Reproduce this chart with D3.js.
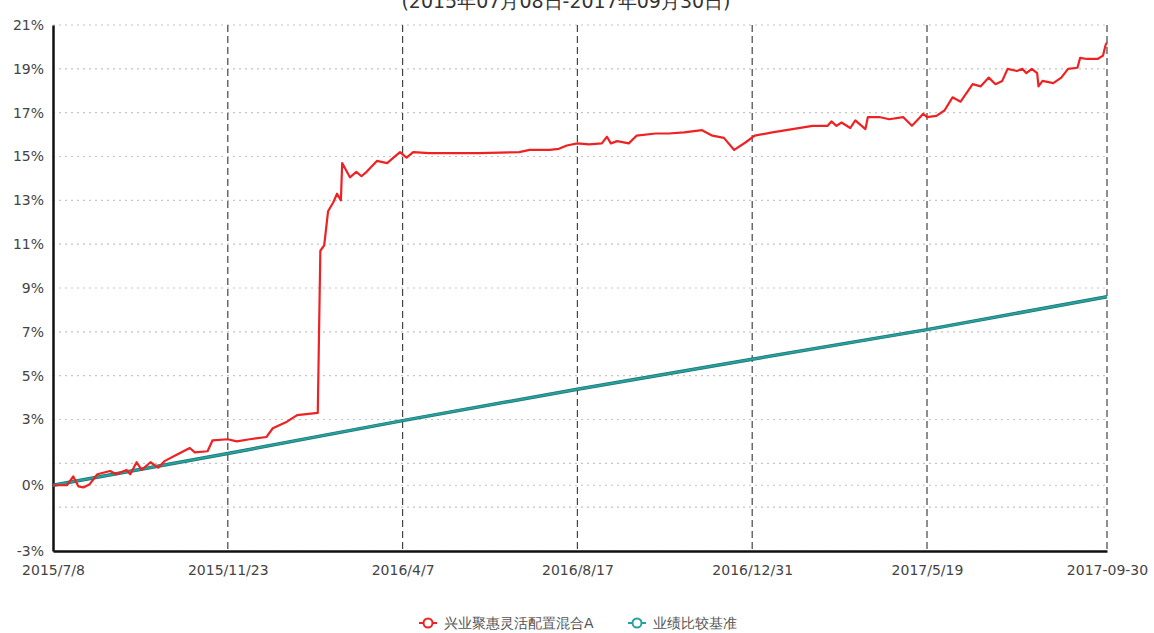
<!DOCTYPE html>
<html>
<head>
<meta charset="utf-8">
<script src="https://cdn.jsdelivr.net/npm/d3@7"></script>
<style>
  body { margin: 0; background: #fff; }
  svg { display: block; font-family: "DejaVu Sans", Verdana, sans-serif; }
</style>
</head>
<body>
<svg id="chart" width="1154" height="633"></svg>
<script>
'use strict';

var title = '(2015年07月08日-2017年09月30日)';
var seriesNames = ['兴业聚惠灵活配置混合A', '业绩比较基准'];

var tickDates = ['2015-07-08', '2015-11-23', '2016-04-07', '2016-08-17', '2016-12-31', '2017-05-19', '2017-09-30'];
var tickLabels = ['2015/7/8', '2015/11/23', '2016/4/7', '2016/8/17', '2016/12/31', '2017/5/19', '2017-09-30'];

var gridValues = [21, 19, 17, 15, 13, 11, 9, 7, 5, 3, 1, 0, -1, -3];
var labelValues = [21, 19, 17, 15, 13, 11, 9, 7, 5, 3, 0, -3];

// fund return (%)
var fundDates = [
  '2015-07-08', '2015-07-19', '2015-07-24', '2015-07-28', '2015-08-01', '2015-08-06', '2015-08-12',
  '2015-08-22', '2015-08-27', '2015-09-04', '2015-09-07', '2015-09-12', '2015-09-16', '2015-09-23',
  '2015-09-29', '2015-10-04', '2015-10-14', '2015-10-24', '2015-10-28', '2015-11-07', '2015-11-11',
  '2015-11-23', '2015-11-30', '2015-12-10', '2015-12-23', '2015-12-28', '2016-01-08', '2016-01-16',
  '2016-02-01', '2016-02-03', '2016-02-06', '2016-02-09', '2016-02-13', '2016-02-16', '2016-02-19',
  '2016-02-20', '2016-02-26', '2016-03-02', '2016-03-06', '2016-03-10', '2016-03-18', '2016-03-26',
  '2016-03-30', '2016-04-05', '2016-04-10', '2016-04-15', '2016-04-27', '2016-06-04', '2016-07-04',
  '2016-07-12', '2016-07-27', '2016-08-03', '2016-08-09', '2016-08-17', '2016-08-26', '2016-09-05',
  '2016-09-09', '2016-09-12', '2016-09-17', '2016-09-26', '2016-10-02', '2016-10-17', '2016-10-27',
  '2016-11-08', '2016-11-22', '2016-11-30', '2016-12-09', '2016-12-17', '2016-12-26', '2017-01-02',
  '2017-01-16', '2017-02-01', '2017-02-17', '2017-03-01', '2017-03-04', '2017-03-08', '2017-03-12',
  '2017-03-19', '2017-03-23', '2017-03-31', '2017-04-02', '2017-04-11', '2017-04-19', '2017-04-30',
  '2017-05-07', '2017-05-12', '2017-05-16', '2017-05-19', '2017-05-26', '2017-06-01', '2017-06-07',
  '2017-06-13', '2017-06-22', '2017-06-28', '2017-07-04', '2017-07-09', '2017-07-14', '2017-07-18',
  '2017-07-25', '2017-07-29', '2017-08-01', '2017-08-05', '2017-08-09', '2017-08-10', '2017-08-13',
  '2017-08-21', '2017-08-27', '2017-09-01', '2017-09-08', '2017-09-10', '2017-09-15', '2017-09-23',
  '2017-09-27', '2017-09-29', '2017-09-30'
];
var fundValues = [
  0.0, 0.0, 0.4, -0.05, -0.1, 0.05, 0.5,
  0.65, 0.5, 0.7, 0.5, 1.05, 0.7, 1.05,
  0.8, 1.1, 1.4, 1.7, 1.5, 1.55, 2.05,
  2.1, 2.0, 2.1, 2.2, 2.6, 2.9, 3.2,
  3.3, 10.7, 10.95, 12.5, 12.9, 13.3, 13.0,
  14.7, 14.05, 14.3, 14.1, 14.3, 14.8, 14.7,
  14.9, 15.2, 14.95, 15.2, 15.15, 15.15, 15.2,
  15.3, 15.3, 15.35, 15.5, 15.6, 15.55, 15.6,
  15.9, 15.6, 15.7, 15.6, 15.95, 16.05, 16.05,
  16.1, 16.2, 15.95, 15.85, 15.3, 15.65, 15.95,
  16.1, 16.25, 16.4, 16.4, 16.6, 16.4, 16.55,
  16.3, 16.65, 16.25, 16.8, 16.8, 16.7, 16.8,
  16.4, 16.7, 16.95, 16.8, 16.85, 17.1, 17.7,
  17.5, 18.3, 18.2, 18.6, 18.3, 18.45, 19.0,
  18.9, 19.0, 18.8, 19.0, 18.8, 18.2, 18.45,
  18.35, 18.6, 19.0, 19.05, 19.5, 19.45, 19.45,
  19.6, 20.1, 20.2
];

// benchmark return (%)
var benchDates = ['2015-07-08', '2015-11-23', '2016-04-07', '2016-08-17', '2016-12-31', '2017-05-19', '2017-09-30'];
var benchValues = [0.0, 1.45, 2.95, 4.38, 5.75, 7.1, 8.6];

var colors = ['#ee2222', '#26a19d'];

var parse = d3.timeParse('%Y-%m-%d');
var fontFamily = '"DejaVu Sans", Verdana, sans-serif';

var svg = d3.select('#chart'),
    width = 1154,
    height = 633;

var margin = {top: 25, right: 47, bottom: 82, left: 53},
    chartWidth = width - margin.left - margin.right,
    chartHeight = height - margin.top - margin.bottom;

var chart = svg.append('g')
  .attr('transform', 'translate(' + margin.left + ',' + margin.top + ')');

// category-like spacing: the ticks sit at equal steps except the last one
var step = 174.8;
var xRange = tickDates.map(function (d, i) {
  return i < tickDates.length - 1 ? i * step : chartWidth;
});

var x = d3.scaleTime()
  .domain(tickDates.map(parse))
  .range(xRange);

var y = d3.scaleLinear()
  .domain([-3, 21])
  .range([chartHeight, 0]);

// title, cut off by the top edge like the original
svg.append('text')
  .attr('x', 566)
  .attr('y', 8)
  .attr('text-anchor', 'middle')
  .attr('fill', '#333')
  .style('font-size', '19px')
  .text(title);

// horizontal dotted grid
chart.append('g')
  .selectAll('line')
  .data(gridValues)
  .enter().append('line')
  .attr('x1', 0)
  .attr('x2', chartWidth)
  .attr('y1', function (d) { return y(d); })
  .attr('y2', function (d) { return y(d); })
  .attr('stroke', '#c4c4c4')
  .attr('stroke-width', 1.2)
  .attr('stroke-dasharray', '2,4');

// vertical dashed grid
chart.append('g')
  .selectAll('line')
  .data(tickDates.slice(1))
  .enter().append('line')
  .attr('x1', function (d) { return x(parse(d)); })
  .attr('x2', function (d) { return x(parse(d)); })
  .attr('y1', 0)
  .attr('y2', chartHeight)
  .attr('stroke', '#444')
  .attr('stroke-width', 1.2)
  .attr('stroke-dasharray', '7,4');

// y axis
var yAxis = d3.axisLeft(y)
  .tickValues(labelValues)
  .tickSize(0)
  .tickPadding(9)
  .tickFormat(function (d) { return d + '%'; });

var gy = chart.append('g').call(yAxis)
  .attr('font-family', fontFamily)
  .attr('font-size', 14);
gy.select('.domain').attr('stroke', '#111').attr('stroke-width', 2.5);
gy.selectAll('text').attr('fill', '#444');

// x axis
var xAxis = d3.axisBottom(x)
  .tickValues(tickDates.map(parse))
  .tickSize(0)
  .tickPadding(14)
  .tickFormat(function (d, i) { return tickLabels[i]; });

var gx = chart.append('g')
  .attr('transform', 'translate(0,' + chartHeight + ')')
  .call(xAxis)
  .attr('font-family', fontFamily)
  .attr('font-size', 14);
gx.select('.domain').attr('stroke', '#111').attr('stroke-width', 2.5);
gx.selectAll('text').attr('fill', '#444');

var line = d3.line()
  .x(function (d) { return x(d.date); })
  .y(function (d) { return y(d.value); });

var benchData = benchDates.map(function (d, i) { return {date: parse(d), value: benchValues[i]}; });
var fundData = fundDates.map(function (d, i) { return {date: parse(d), value: fundValues[i]}; });

chart.append('path')
  .datum(benchData)
  .attr('fill', 'none')
  .attr('stroke', '#1d7573')
  .attr('stroke-width', 3.5)
  .attr('d', line);
chart.append('path')
  .datum(benchData)
  .attr('fill', 'none')
  .attr('stroke', colors[1])
  .attr('stroke-width', 2)
  .attr('d', line);

chart.append('path')
  .datum(fundData)
  .attr('fill', 'none')
  .attr('stroke', colors[0])
  .attr('stroke-width', 2.2)
  .attr('stroke-linejoin', 'round')
  .attr('d', line);

// legend
var legendX = [419, 628];
var legend = svg.append('g')
  .attr('transform', 'translate(0,623)');

var item = legend.selectAll('g')
  .data(seriesNames)
  .enter().append('g')
  .attr('transform', function (d, i) { return 'translate(' + legendX[i] + ',0)'; });

item.append('line')
  .attr('x1', 0).attr('x2', 18)
  .attr('stroke', function (d, i) { return colors[i]; })
  .attr('stroke-width', 2);
item.append('circle')
  .attr('cx', 9)
  .attr('r', 4.5)
  .attr('fill', '#fff')
  .attr('stroke', function (d, i) { return colors[i]; })
  .attr('stroke-width', 2);
item.append('text')
  .attr('x', 25)
  .attr('dy', '0.35em')
  .attr('fill', '#555')
  .style('font-size', '14px')
  .text(function (d) { return d; });
</script>
</body>
</html>
